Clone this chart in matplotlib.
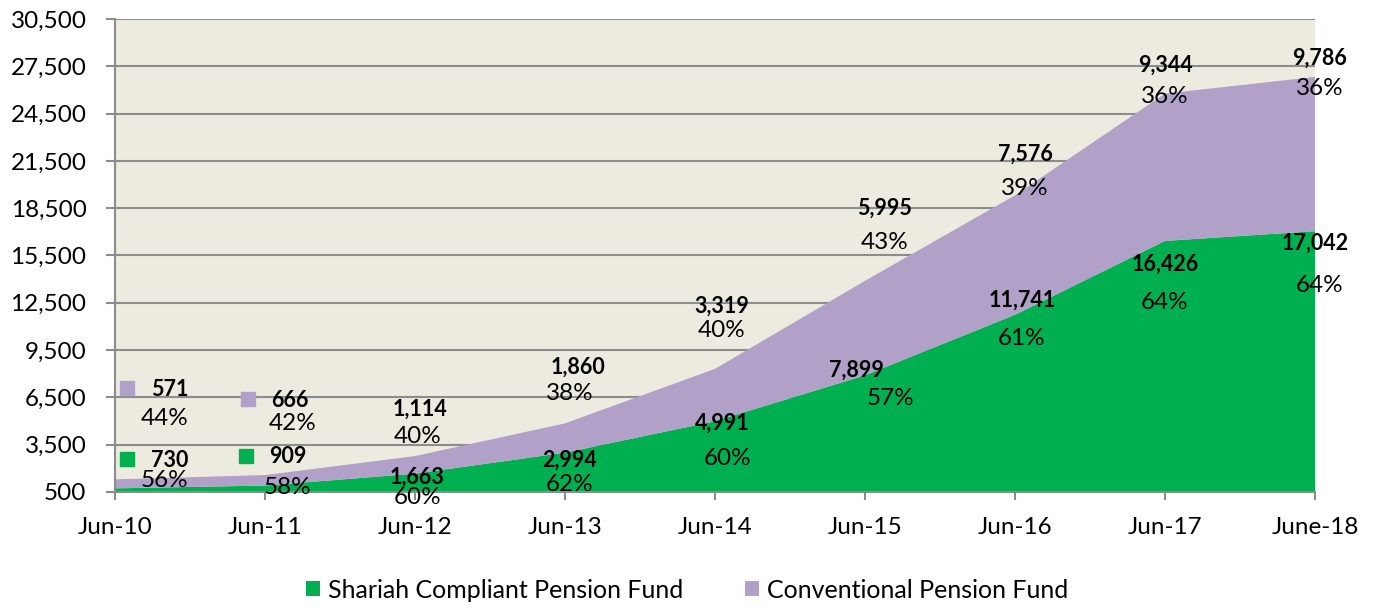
import matplotlib
matplotlib.use("Agg")
import matplotlib.pyplot as plt
from matplotlib.ticker import FuncFormatter
from matplotlib.patches import Patch
import numpy as np

plt.rcParams['font.family'] = ['Lato', 'DejaVu Sans']

categories = ["Jun-10", "Jun-11", "Jun-12", "Jun-13", "Jun-14", "Jun-15", "Jun-16", "Jun-17", "June-18"]
shariah = [730, 909, 1663, 2994, 4991, 7899, 11741, 16426, 17042]
conventional = [571, 666, 1114, 1860, 3319, 5995, 7576, 9344, 9786]
series_names = ["Shariah Compliant Pension Fund", "Conventional Pension Fund"]

# label placement (x in category units, y in value units)
shariah_val_pos = [(0.367, 2529), (1.153, 2783), (2.013, 1451), (3.033, 2529), (4.047, 4875),
                   (4.94, 8236), (6.047, 12675), (7.0, 14958), (8.0, 16290)]
shariah_pct_pos = [(0.333, 1198), (1.153, 817), (2.02, 120), (3.033, 944), (4.087, 2656),
                   (5.167, 6461), (6.047, 10265), (7.0, 12548), (8.033, 13626)]
conv_val_pos = [(0.367, 7031), (1.167, 6334), (2.033, 5763), (3.087, 8426), (4.047, 12294),
                (5.133, 18509), (6.067, 21933), (7.0, 27577), (8.033, 28021)]
conv_pct_pos = [(0.333, 5192), (1.187, 4875), (2.02, 4051), (3.033, 6778), (4.047, 10773),
                (5.133, 16353), (6.067, 19777), (7.0, 25611), (8.033, 26118)]
key_pos_shariah = [(0.08, 2593), (0.873, 2783)]
key_pos_conv = [(0.08, 7095), (0.887, 6397)]

GREEN = "#00B050"
PURPLE = "#B1A0C7"
BG = "#EDEBE0"
GRID = "#8C8C8C"

fig = plt.figure(figsize=(13.74, 6.08), dpi=100)
ax = fig.add_axes([115/1374, 1 - 492/608, 1200/1374, 473/608])
ax.set_facecolor(BG)

x = np.arange(len(categories))
ax.stackplot(x, shariah, conventional, colors=[GREEN, PURPLE], linewidth=0, zorder=2)

ax.set_xlim(0, len(categories) - 1)
ax.set_ylim(500, 30500)
ax.set_yticks(np.arange(500, 30501, 3000))
ax.yaxis.set_major_formatter(FuncFormatter(lambda v, p: f"{int(v):,}"))
ax.grid(axis='y', color=GRID, linewidth=1.5, zorder=1)
ax.set_axisbelow(True)
ax.set_xticks(x)
ax.set_xticklabels(categories)

for s in ['top', 'right']:
    ax.spines[s].set_visible(False)
for s in ['left', 'bottom']:
    ax.spines[s].set_color(GRID)
    ax.spines[s].set_linewidth(1.5)
ax.spines['bottom'].set_zorder(3)
ax.tick_params(axis='y', length=6.5, width=1.5, color=GRID, labelsize=17.5, pad=14)
ax.tick_params(axis='x', length=6, width=1.5, color=GRID, labelsize=17.5, pad=12)

totals = [a + b for a, b in zip(shariah, conventional)]
for i in range(len(categories)):
    sp = round(100 * shariah[i] / totals[i])
    cp = 100 - sp
    ax.text(*shariah_val_pos[i], f"{shariah[i]:,}", ha='center', va='center',
            fontsize=15.5, fontweight='bold', color='black', zorder=5, clip_on=False)
    ax.text(*shariah_pct_pos[i], f"{sp}%", ha='center', va='center',
            fontsize=17.5, color='black', zorder=5, clip_on=False)
    ax.text(*conv_val_pos[i], f"{conventional[i]:,}", ha='center', va='center',
            fontsize=15.5, fontweight='bold', color='black', zorder=5, clip_on=False)
    ax.text(*conv_pct_pos[i], f"{cp}%", ha='center', va='center',
            fontsize=17.5, color='black', zorder=5, clip_on=False)

for (kx, ky) in key_pos_shariah:
    ax.plot([kx], [ky], marker='s', markersize=10, color=GREEN, linestyle='none', zorder=5)
for (kx, ky) in key_pos_conv:
    ax.plot([kx], [ky], marker='s', markersize=10, color=PURPLE, linestyle='none', zorder=5)

handles = [Patch(facecolor=GREEN, edgecolor='none', label=series_names[0]),
           Patch(facecolor=PURPLE, edgecolor='none', label=series_names[1])]
fig.legend(handles=handles, loc='center', bbox_to_anchor=(0.5, 1 - 590/608), ncol=2,
           frameon=False, fontsize=18, handlelength=0.56, handleheight=0.56,
           handletextpad=0.32, columnspacing=2.5)

fig.savefig("out.png", dpi=100)
